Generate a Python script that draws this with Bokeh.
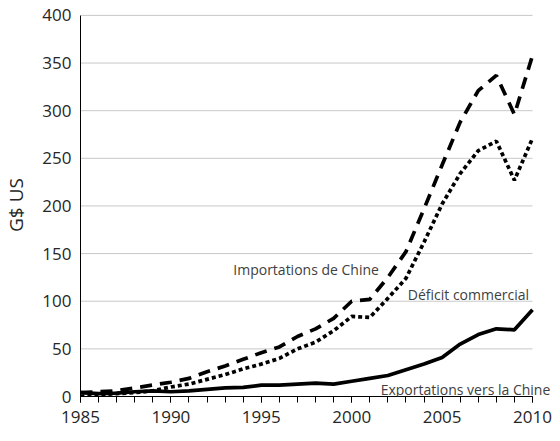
from bokeh.plotting import figure
from bokeh.models import Label, SingleIntervalTicker, FixedTicker
from bokeh.embed import file_html
from bokeh.resources import INLINE

years = list(range(1985, 2011))
imports_china = [4, 5, 6, 9, 12, 15, 19, 26, 32, 39, 46, 52, 63, 71, 82, 100, 102, 125, 152, 197, 243, 288, 321, 337, 296, 358]
exports_china = [4, 3, 3.5, 5, 6, 5, 6, 7.5, 9, 9.5, 12, 12, 13, 14, 13, 16, 19, 22, 28, 34, 41, 55, 65, 71, 70, 91]
deficit = [0, 2, 3, 4, 6, 10, 13, 18, 23, 29, 34, 40, 50, 57, 69, 84, 83, 103, 124, 162, 202, 234, 258, 268, 227, 271]

y_ticks = [0, 50, 100, 150, 200, 250, 300, 350, 400]
year_start, year_end = 1985, 2010

FONT = "Open Sans"

p = figure(width=552, height=433, x_range=(year_start, 2011.05), y_range=(0, 402),
           output_backend="svg", toolbar_location=None,
           min_border_left=79, min_border_right=1, min_border_top=13, min_border_bottom=37)
p.outline_line_color = None
p.background_fill_color = "white"
p.border_fill_color = "white"

# y axis
p.yaxis.ticker = FixedTicker(ticks=y_ticks)
p.yaxis.bounds = (0, 400)
p.yaxis.major_tick_out = 0
p.yaxis.major_tick_in = 0
p.yaxis.minor_tick_out = 0
p.yaxis.minor_tick_in = 0
p.yaxis.major_tick_line_color = None
p.yaxis.minor_tick_line_color = None
p.yaxis.axis_line_color = "black"
p.yaxis.major_label_text_font = FONT
p.yaxis.major_label_text_font_size = "17px"
p.yaxis.major_label_text_color = "#262626"
p.yaxis.major_label_standoff = 9
p.yaxis.axis_label = "G$ US"
p.yaxis.axis_label_text_font = FONT
p.yaxis.axis_label_text_font_size = "19px"
p.yaxis.axis_label_text_font_style = "normal"
p.yaxis.axis_label_text_color = "#262626"
p.yaxis.axis_label_standoff = 10

# x axis
p.xaxis.ticker = SingleIntervalTicker(interval=5, num_minor_ticks=5)
p.xaxis.bounds = (year_start, year_end)
p.xaxis.major_tick_out = 6
p.xaxis.major_tick_in = 0
p.xaxis.minor_tick_out = 6
p.xaxis.minor_tick_in = 0
p.xaxis.major_tick_line_color = "black"
p.xaxis.minor_tick_line_color = "black"
p.xaxis.axis_line_color = "black"
p.xaxis.major_label_text_font = FONT
p.xaxis.major_label_text_font_size = "17px"
p.xaxis.major_label_text_color = "#262626"
p.xaxis.major_label_standoff = 8

# grid lines only across the data span
p.xgrid.grid_line_color = None
p.ygrid.grid_line_color = None
p.segment(x0=[year_start] * len(y_ticks), y0=y_ticks,
          x1=[year_end] * len(y_ticks), y1=y_ticks,
          line_color="#c8c8c8", line_width=1, level="underlay")

# series
p.line(years, imports_china, line_color="black", line_width=3.7, line_dash="12 8")
p.line(years, deficit, line_color="black", line_width=3.7, line_dash="4 3")
p.line(years, exports_china, line_color="black", line_width=3.7)

# labels
lab_style = dict(text_font=FONT, text_font_size="14px", text_color="#404040",
                 text_baseline="middle", text_align="left")
p.add_layout(Label(x=1993.45, y=133, text="Importations de Chine", **lab_style))
p.add_layout(Label(x=2003.1, y=107, text="Déficit commercial", **lab_style))
p.add_layout(Label(x=2001.6, y=7.5, text="Exportations vers la Chine", **lab_style))

open("out.html", "w").write(file_html(p, INLINE))
